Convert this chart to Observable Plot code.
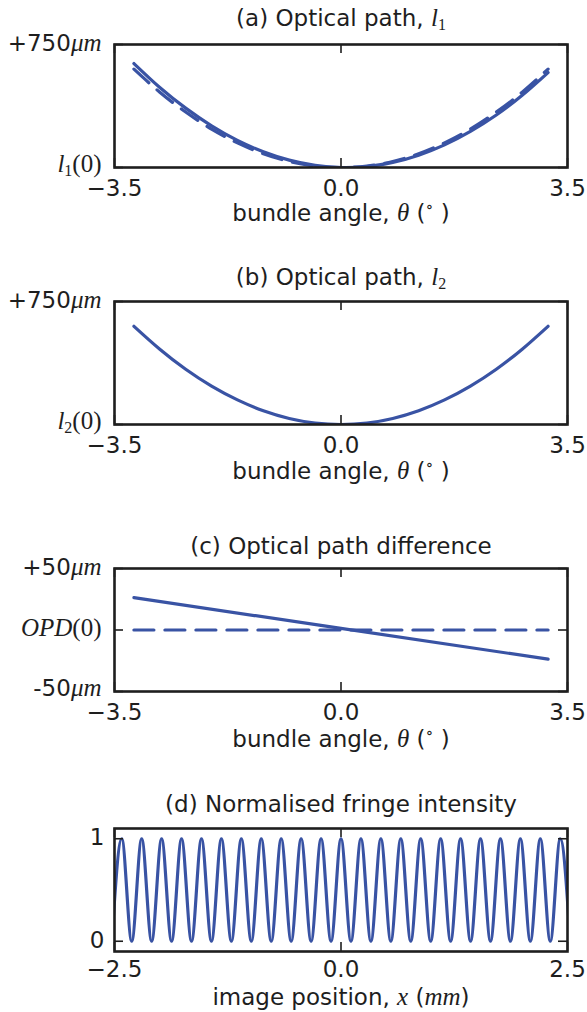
<!DOCTYPE html>
<html><head><meta charset="utf-8">
<script src="https://cdn.jsdelivr.net/npm/d3@7"></script>
<script src="https://cdn.jsdelivr.net/npm/@observablehq/plot@0.6"></script>
<style>
body{margin:0;background:#fff;}
#fig{position:relative;width:587px;height:1012px;font-family:"DejaVu Sans";overflow:hidden;}
#fig svg{position:absolute;left:0;overflow:visible;}
</style></head><body><div id="fig"></div>
<script>
// ---- data ----
const angleGrid = [-3.2,-2.8,-2.4,-2.0,-1.6,-1.2,-0.8,-0.4,0,0.4,0.8,1.2,1.6,2.0,2.4,2.8,3.2];
const l1Solid  = [634,488,362,254,165,96,45,13,0,6,31,75,138,220,320,440,579];
const l1Dashed = [600,459,338,234,150,84,37,9,0,9,37,84,150,234,338,459,600];
const l2Solid  = [599,459,337,234,150,84,37,9,0,9,37,84,150,234,337,459,599];
const opdAngle = [-3.2,0,3.2];
const opdSolid = [26.3,1.3,-23.7];
const opdRef   = [0,0,0];
const fringeX = [-2.53,-2.42,-2.31,-2.20,-2.09,-1.98,-1.87,-1.76,-1.65,-1.54,-1.43,-1.32,-1.21,-1.10,-0.99,-0.88,-0.77,-0.66,-0.55,-0.44,-0.33,-0.22,-0.11,0,
  0.11,0.22,0.33,0.44,0.55,0.66,0.77,0.88,0.99,1.10,1.21,1.32,1.43,1.54,1.65,1.76,1.87,1.98,2.09,2.20,2.31,2.42,2.53];
const fringeY = [0,1,0,1,0,1,0,1,0,1,0,1,0,1,0,1,0,1,0,1,0,1,0,1,
  0,1,0,1,0,1,0,1,0,1,0,1,0,1,0,1,0,1,0,1,0,1,0];
const angleTicks = [-3.5,0,3.5];
const angleTickLabels = ["−3.5","0.0","3.5"];
const posTicks = [-2.5,0,2.5];
const posTickLabels = ["−2.5","0.0","2.5"];
const titles = ["(a) Optical path, $l_1$","(b) Optical path, $l_2$","(c) Optical path difference","(d) Normalised fringe intensity"];
const angleLabel = "bundle angle, $θ$ ($^∘$ )";
const posLabel = "image position, $x$ ($mm$)";
const aYTicks = [0,750], aYLabels = ["$l_1(0)$","+750$μm$"];
const bYTicks = [0,750], bYLabels = ["$l_2(0)$","+750$μm$"];
const cYTicks = [-50,0,50], cYLabels = ["-50$μm$","$OPD(0)$","+50$μm$"];
const dYTicks = [0,1], dYLabels = ["0","1"];

// ---- style ----
const BLUE = "#3953a4";
const INK = "#1e1e1e";
const FS = 23;
const MFS = 25;
const MATH = "'Liberation Serif', 'DejaVu Serif', serif";
const W = 587, ML = 114, MR = 20, MT = 44, FH = 123, MB = 70;
const FW = W - ML - MR;
const TL = 9;

const fig = document.getElementById("fig");

function pairs(xs, ys){ return xs.map((x,i)=>({x, y: ys[i]})); }
function labelled(vs, ls){ return vs.map((v,i)=>({v, label: ls[i], first: i === 0})); }

function panel(o){
  const yl = labelled(o.yTicks, o.yLabels);
  const svg = Plot.plot({
    width: W, height: MT + FH + MB,
    marginTop: MT, marginBottom: MB, marginLeft: ML, marginRight: MR,
    x: {domain: o.xDomain, axis: null},
    y: {domain: o.yDomain, axis: null},
    style: {fontFamily: "DejaVu Sans", fontSize: FS + "px", color: INK, background: "transparent", overflow: "visible"},
    marks: [
      ...o.marks,
      Plot.frame({stroke: INK, strokeWidth: 2.6}),
      Plot.tickX(o.xTicks, {x: d=>d, insetBottom: FH - TL, stroke: INK, strokeWidth: 1.6}),
      Plot.tickX(o.xTicks, {x: d=>d, insetTop: FH - TL, stroke: INK, strokeWidth: 1.6}),
      Plot.tickY(o.yTicks, {y: d=>d, insetRight: FW - TL, stroke: INK, strokeWidth: 1.6}),
      Plot.tickY(o.yTicks, {y: d=>d, insetLeft: FW - TL, stroke: INK, strokeWidth: 1.6}),
      Plot.text(labelled(o.xTicks, o.xLabels), {x: "v", text: "label", frameAnchor: "bottom", dy: o.tickDy, lineAnchor: "middle", fill: INK, fontSize: FS}),
      Plot.text(yl.filter(d => !d.first), {y: "v", text: "label", frameAnchor: "left", dx: o.yDx, dy: -1, textAnchor: "end", lineAnchor: "middle", fill: INK, fontSize: FS}),
      Plot.text(yl.filter(d => d.first), {y: "v", text: "label", frameAnchor: "left", dx: o.yDx, dy: o.yBottomDy, textAnchor: "end", lineAnchor: "middle", fill: INK, fontSize: FS}),
      Plot.text([o.title], {text: d=>d, frameAnchor: "top", dy: o.titleDy, lineAnchor: "middle", fill: INK, fontSize: FS}),
      Plot.text([o.xTitle], {text: d=>d, frameAnchor: "bottom", dy: o.xTitleDy, lineAnchor: "middle", fill: INK, fontSize: FS})
    ]
  });
  svg.style.top = (o.frameTop - MT) + "px";
  fig.appendChild(svg);
  d3.select(svg).selectAll("text").each(function(){ rich(this, this.textContent); });
}

function rich(el, str){
  if (!str.includes("$")) return;
  const sel = d3.select(el);
  sel.text(null);
  let pending = 0;
  const add = (txt) => { const t = sel.append("tspan").text(txt); if (pending){ t.attr("dy", pending); pending = 0; } return t; };
  str.split("$").forEach((p, i) => {
    if (!p) return;
    if (i % 2 === 0){ add(p); return; }
    let j = 0;
    while (j < p.length){
      const ch = p[j];
      if (ch === "_" || ch === "^"){
        const shift = ch === "_" ? 4 : -9;
        const t = sel.append("tspan").text(p[j+1]).attr("font-family", MATH).attr("font-size", 16);
        t.attr("dy", pending + shift); pending = -shift;
        j += 2; continue;
      }
      const t = add(ch).attr("font-family", MATH).attr("font-size", MFS);
      t.attr("font-style", /[A-Za-zθμ]/.test(ch) ? "italic" : "normal");
      j++;
    }
  });
}

const lineStyle = {x: "x", y: "y", stroke: BLUE, strokeWidth: 3.2, clip: true};

panel({
  frameTop: 44, xDomain: [-3.5,3.5], yDomain: [0,750],
  xTicks: angleTicks, xLabels: angleTickLabels, yTicks: aYTicks, yLabels: aYLabels,
  title: titles[0], xTitle: angleLabel, tickDy: 21, xTitleDy: 46, titleDy: -26, yDx: -13, yBottomDy: -3,
  marks: [
    Plot.line(pairs(angleGrid, l1Dashed), {...lineStyle, curve: "natural", strokeDasharray: "20,11"}),
    Plot.line(pairs(angleGrid, l1Solid), {...lineStyle, curve: "natural"})
  ]
});
panel({
  frameTop: 301, xDomain: [-3.5,3.5], yDomain: [0,750],
  xTicks: angleTicks, xLabels: angleTickLabels, yTicks: bYTicks, yLabels: bYLabels,
  title: titles[1], xTitle: angleLabel, tickDy: 21, xTitleDy: 47, titleDy: -24, yDx: -13, yBottomDy: -3,
  marks: [
    Plot.line(pairs(angleGrid, l2Solid), {...lineStyle, curve: "natural"})
  ]
});
panel({
  frameTop: 568, xDomain: [-3.5,3.5], yDomain: [-50,50],
  xTicks: angleTicks, xLabels: angleTickLabels, yTicks: cYTicks, yLabels: cYLabels,
  title: titles[2], xTitle: angleLabel, tickDy: 21, xTitleDy: 48, titleDy: -22, yDx: -13, yBottomDy: -3,
  marks: [
    Plot.line(pairs(opdAngle, opdRef), {...lineStyle, strokeDasharray: "20,11"}),
    Plot.line(pairs(opdAngle, opdSolid), {...lineStyle})
  ]
});
panel({
  frameTop: 828, xDomain: [-2.5,2.5], yDomain: [-0.1,1.1],
  xTicks: posTicks, xLabels: posTickLabels, yTicks: dYTicks, yLabels: dYLabels,
  title: titles[3], xTitle: posLabel, tickDy: 18, xTitleDy: 46, titleDy: -24, yDx: -10, yBottomDy: -1,
  marks: [
    Plot.line(pairs(fringeX, fringeY), {...lineStyle, curve: "monotone-x"})
  ]
});
</script></body></html>
